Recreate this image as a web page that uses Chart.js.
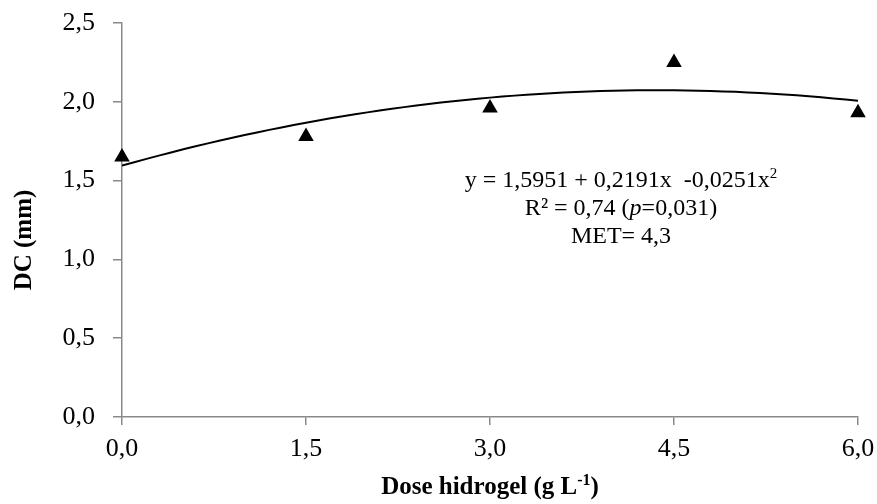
<!DOCTYPE html>
<html>
<head>
<meta charset="utf-8">
<script src="https://cdn.jsdelivr.net/npm/chart.js@4.4.1/dist/chart.umd.min.js"></script>
<style>
  html, body { margin: 0; padding: 0; background: #fff; }
  #wrap { width: 877px; height: 504px; }
</style>
</head>
<body>
<div id="wrap"><canvas id="dcChart" width="877" height="504"></canvas></div>
<script>
// Observed means: dose of hydrogel (g/L) vs stem diameter DC (mm)
const doses = [0, 1.5, 3.0, 4.5, 6.0];
const dcMeans = [1.65, 1.78, 1.96, 2.25, 1.93];

// Quadratic fit y = b0 + b1*x + b2*x^2 (coefficients as printed)
const fitCoef = [1.5951, 0.2191, -0.0251];
const eqLines = ['R\u00b2 = 0,74 (', 'MET= 4,3'];

const SERIF = '"Liberation Serif", "Times New Roman", serif';
const AXIS_GREY = '#898989';

// sample the fitted curve along the dose range
const curve = [];
for (let i = 0; i <= 60; i++) {
    const x = i * 0.1;
    curve.push({ x: x, y: fitCoef[0] + fitCoef[1] * x + fitCoef[2] * x * x });
}

const comma = v => v.toFixed(1).replace('.', ',');

// axis titles + equation box, drawn by hand so superscripts work
const annotations = {
    id: 'annotations',
    afterDraw(chart) {
        const ctx = chart.ctx;
        ctx.save();
        ctx.fillStyle = '#000';
        ctx.textBaseline = 'alphabetic';

        const titleFont = 'bold 25px ' + SERIF;
        const supFont = 'bold 16px ' + SERIF;

        // y title
        ctx.font = titleFont;
        ctx.save();
        ctx.translate(31, 240);
        ctx.rotate(-Math.PI / 2);
        ctx.textAlign = 'center';
        ctx.fillText('DC (mm)', 0, 0);
        ctx.restore();

        // x title with superscript -1
        ctx.textAlign = 'left';
        const xt = 'Dose hidrogel (g L';
        ctx.font = titleFont;
        const w1 = ctx.measureText(xt).width;
        ctx.font = supFont;
        const w2 = ctx.measureText('-1').width;
        ctx.font = titleFont;
        const w3 = ctx.measureText(')').width;
        let x0 = 490 - (w1 + w2 + w3) / 2;
        ctx.fillText(xt, x0, 494);
        ctx.font = supFont;
        ctx.fillText('-1', x0 + w1, 485);
        ctx.font = titleFont;
        ctx.fillText(')', x0 + w1 + w2, 494);

        // equation
        const cx = 621;
        const big = '24px ' + SERIF, small = '15px ' + SERIF;
        const e1 = 'y = 1,5951 + 0,2191x  -0,0251x';
        ctx.font = big;
        const ew = ctx.measureText(e1).width;
        ctx.font = small;
        const sw = ctx.measureText('2').width;
        let ex = cx - (ew + sw) / 2;
        ctx.font = big;
        ctx.fillText(e1, ex, 187);
        ctx.font = small;
        ctx.fillText('2', ex + ew, 178);

        // R² line with italic p
        const pieces = [[eqLines[0], big], ['p', 'italic ' + big], ['=0,031)', big]];
        let tot = 0;
        pieces.forEach(p => { ctx.font = p[1]; tot += ctx.measureText(p[0]).width; });
        let px = cx - tot / 2;
        pieces.forEach(p => {
            ctx.font = p[1];
            ctx.fillText(p[0], px, 215);
            px += ctx.measureText(p[0]).width;
        });

        ctx.font = big;
        ctx.textAlign = 'center';
        ctx.fillText(eqLines[1], cx, 243);
        ctx.restore();
    }
};

new Chart(document.getElementById('dcChart'), {
    type: 'scatter',
    data: {
        datasets: [
            {
                label: 'ajuste',
                type: 'line',
                data: curve,
                borderColor: '#000',
                borderWidth: 2,
                pointRadius: 0,
                tension: 0,
                fill: false,
                order: 2
            },
            {
                label: 'DC',
                data: doses.map((d, i) => ({ x: d, y: dcMeans[i] })),
                pointStyle: 'triangle',
                pointRadius: 9,
                backgroundColor: '#000',
                borderColor: '#000',
                borderWidth: 0,
                clip: false,
                order: 1
            }
        ]
    },
    options: {
        responsive: false,
        animation: false,
        layout: { padding: { left: 0, right: 19, top: 23, bottom: 0 } },
        plugins: {
            legend: { display: false },
            tooltip: { enabled: false }
        },
        scales: {
            x: {
                type: 'linear',
                min: 0,
                max: 6,
                ticks: {
                    stepSize: 1.5,
                    color: '#000',
                    font: { family: SERIF, size: 26 },
                    padding: 9,
                    maxRotation: 0,
                    callback: v => comma(v)
                },
                grid: { drawOnChartArea: false, tickLength: 8, color: AXIS_GREY, lineWidth: 1.5 },
                border: { color: AXIS_GREY, width: 1.5 },
                afterFit: s => {
                    s.height = 87;
                    s.paddingLeft = 0;
                    s.paddingRight = 0;
                }
            },
            y: {
                min: 0,
                max: 2.5,
                ticks: {
                    stepSize: 0.5,
                    color: '#000',
                    font: { family: SERIF, size: 26 },
                    padding: 18,
                    callback: v => comma(v)
                },
                grid: { drawOnChartArea: false, tickLength: 9, color: AXIS_GREY, lineWidth: 1.5 },
                border: { color: AXIS_GREY, width: 1.5 },
                afterFit: s => {
                    s.width = 122;
                    s.paddingTop = 0;
                    s.paddingBottom = 0;
                }
            }
        }
    },
    plugins: [annotations]
});
</script>
</body>
</html>
